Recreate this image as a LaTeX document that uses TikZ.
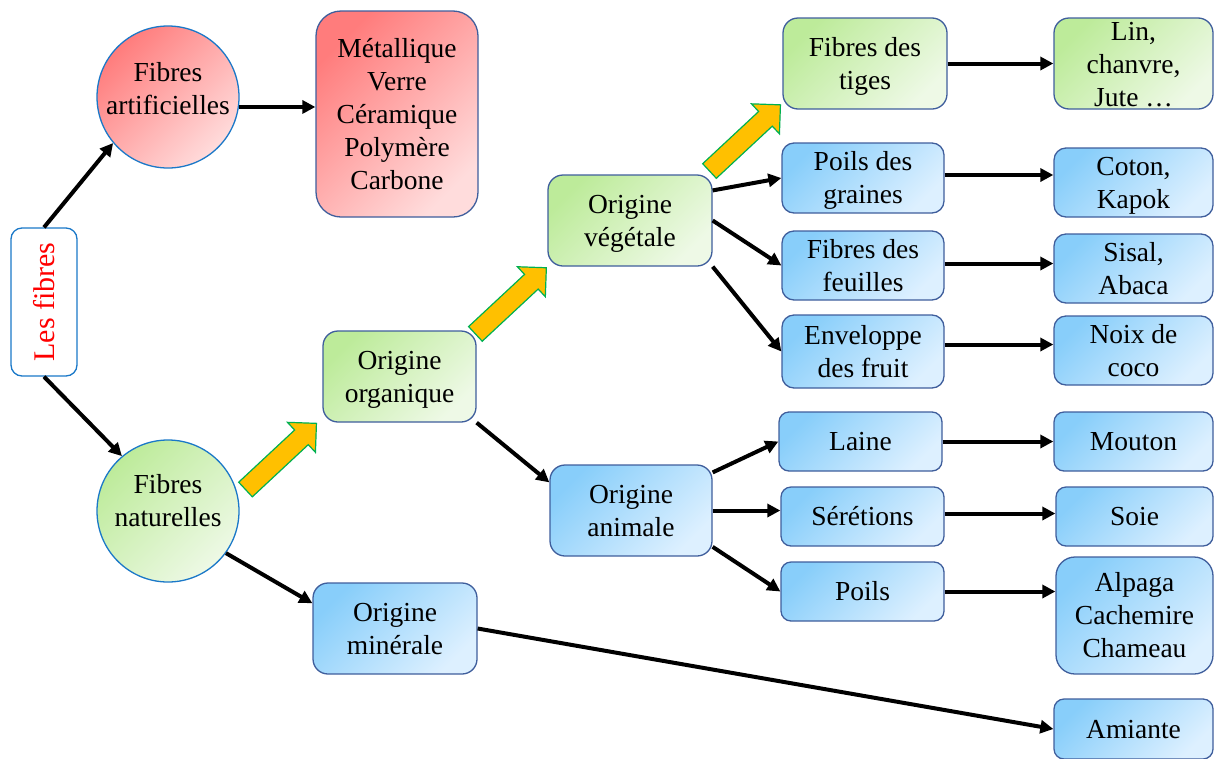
\documentclass[tikz,border=0pt]{standalone}
\usepackage{fontspec}
\setmainfont{Liberation Serif}
\usetikzlibrary{arrows.meta}
\definecolor{bluetl}{HTML}{88CEFA}
\definecolor{bluebr}{HTML}{DDF0FF}
\definecolor{greentl}{HTML}{BDEB9A}
\definecolor{greenbr}{HTML}{EEF9E6}
\definecolor{redtl}{HTML}{FF7C7C}
\definecolor{redbr}{HTML}{FFDCDC}
\definecolor{boxline}{HTML}{3F5E9C}
\definecolor{circline}{HTML}{1A78C8}
\definecolor{yarrfill}{HTML}{FFC000}
\definecolor{yarrline}{HTML}{00B050}
\tikzset{
  bx/.style n args={3}{draw=boxline, line width=1.3pt, rounded corners=#3,
    minimum width=#1, minimum height=#2, inner sep=0pt, align=center,
    font=\fontsize{27.5}{33}\selectfont},
  bshade/.style={top color=bluetl, bottom color=bluebr, shading angle=45},
  gshade/.style={top color=greentl, bottom color=greenbr, shading angle=45},
  rshade/.style={top color=redtl, bottom color=redbr, shading angle=45},
  circ/.style={circle, draw=circline, line width=1.3pt, minimum size=142pt,
    inner sep=0pt, font=\fontsize{27.5}{33}\selectfont},
  arr/.style={line width=4pt, -{Triangle[length=13pt,width=13pt]}},
  yarr/.style={fill=yarrfill, draw=yarrline, line width=1.2pt, line join=miter}
}
\newcommand\bt[2][2.5pt]{\raisebox{-#1}[\height][\depth]{\begin{tabular}{@{}c@{}}#2\end{tabular}}}
\newcommand\btl[2][2.5pt]{\raisebox{-#1}[0.85\height][0.85\depth]{\begin{tabular}{@{}c@{}}#2\end{tabular}}}
\newcommand\circtext[2][5pt]{\raisebox{#1}[\height][\depth]{\begin{tabular}{@{}c@{}}#2\end{tabular}}}
\begin{document}
\begin{tikzpicture}[x=1pt,y=-1pt]
\useasboundingbox (0,0) rectangle (1214,758);

% left column
\node[draw=circline, line width=1.3pt, fill=white, rounded corners=11pt,
  minimum width=66pt, minimum height=148pt, inner sep=0pt, text=red,
  font=\fontsize{30}{36}\selectfont] (lesf) at (44,302) {\rotatebox{90}{Les fibres}};
\node[circ, rshade] (art) at (168,97) {\circtext[5.5pt]{Fibres\\artificielles}};
\node[circ, gshade] (nat) at (168,511) {\circtext[8pt]{Fibres\\naturelles}};
\node[bx={162pt}{206pt}{25pt}, rshade] (met) at (397,114)
  {\bt{Métallique\\Verre\\Céramique\\Polymère\\Carbone}};
\node[bx={153pt}{91pt}{15pt}, gshade] (org) at (399.5,376.5) {\bt{Origine\\organique}};
\node[bx={164pt}{91pt}{15pt}, bshade] (min) at (395,628.5) {\bt{Origine\\minérale}};
\node[bx={164pt}{91pt}{15pt}, gshade] (veg) at (630,220.5) {\bt{Origine\\végétale}};
\node[bx={162pt}{91pt}{15pt}, bshade] (ani) at (631,510.5) {\bt{Origine\\animale}};

% middle column
\node[bx={164pt}{91pt}{15pt}, gshade] (tiges) at (865,63.5) {\bt{Fibres des\\tiges}};
\node[bx={162pt}{70pt}{12pt}, bshade] (graines) at (863,178) {\bt{Poils des\\graines}};
\node[bx={162pt}{69pt}{12pt}, bshade] (feuilles) at (863,265.5) {\bt{Fibres des\\feuilles}};
\node[bx={162pt}{73pt}{12pt}, bshade] (env) at (863,351.5) {\bt{Enveloppe\\des fruit}};
\node[bx={163pt}{59pt}{10pt}, bshade] (laine) at (860.5,441.5) {\bt{Laine}};
\node[bx={163pt}{59pt}{10pt}, bshade] (ser) at (862.5,516.5) {\bt{Sérétions}};
\node[bx={163pt}{59pt}{10pt}, bshade] (poils) at (862.5,591.5) {\bt{Poils}};

% right column
\node[bx={159pt}{91pt}{15pt}, gshade] (lin) at (1133.5,63.5) {\btl[4pt]{Lin,\\chanvre,\\Jute …}};
\node[bx={159pt}{69pt}{12pt}, bshade] (coton) at (1133.5,182.5) {\bt{Coton,\\Kapok}};
\node[bx={159pt}{69pt}{12pt}, bshade] (sisal) at (1133.5,268.5) {\bt{Sisal,\\Abaca}};
\node[bx={159pt}{69pt}{12pt}, bshade] (noix) at (1133.5,350.5) {\bt{Noix de\\coco}};
\node[bx={159pt}{59pt}{10pt}, bshade] (mouton) at (1133.5,441.5) {\bt{Mouton}};
\node[bx={157pt}{59pt}{10pt}, bshade] (soie) at (1134.5,516.5) {\bt{Soie}};
\node[bx={157pt}{117pt}{19pt}, bshade] (alpaga) at (1134.5,615.5) {\bt{Alpaga\\Cachemire\\Chameau}};
\node[bx={159pt}{60pt}{10pt}, bshade] (ami) at (1133.5,729) {\bt{Amiante}};

% black connectors
\draw[arr] (lesf.north) -- (art.220);
\draw[arr] (lesf.south) -- (nat.130);
\draw[arr] (art.-8) -- (art.-8 -| met.west);
\draw[arr] (nat.-36) -- (min.163);
\draw[arr] (org.south east) -- (ani.161);
\draw[arr] (min.east) -- (ami.west);
\draw[arr] (veg.20) -- (graines.west);
\draw[arr] (veg.east) -- (feuilles.west);
\draw[arr] (veg.south east) -- (env.west);
\draw[arr] (ani.25) -- (laine.west);
\draw[arr] (ani.east) -- (ani.east -| ser.west);
\draw[arr] (ani.-24) -- (poils.west);
\draw[arr] (tiges.east) -- (tiges.east -| lin.west);
\draw[arr] ([yshift=3pt]graines.east) -- ([yshift=3pt]graines.east -| coton.west);
\draw[arr] ([yshift=2pt]feuilles.east) -- ([yshift=5pt]sisal.west);
\draw[arr] ([yshift=7pt]env.east) -- ([yshift=6pt]noix.west);
\draw[arr] (laine.east) -- (laine.east -| mouton.west);
\draw[arr] ([yshift=3pt]ser.east) -- ([yshift=3pt]soie.west);
\draw[arr] (poils.east) -- (poils.east -| alpaga.west);

% yellow block arrows
\coordinate (ya1) at (245.5,489.5);
\coordinate (ya2) at (475.4,333.9);
\coordinate (ya3) at (709.5,171);
\foreach \t in {ya1,ya2,ya3}{
  \begin{scope}[shift={(\t)}, rotate=43]
    \draw[yarr] (0,-10) -- (76.5,-10) -- (76.5,-20.5) -- (97,0) -- (76.5,20.5)
      -- (76.5,10) -- (0,10) -- cycle;
  \end{scope}
}
\end{tikzpicture}
\end{document}
